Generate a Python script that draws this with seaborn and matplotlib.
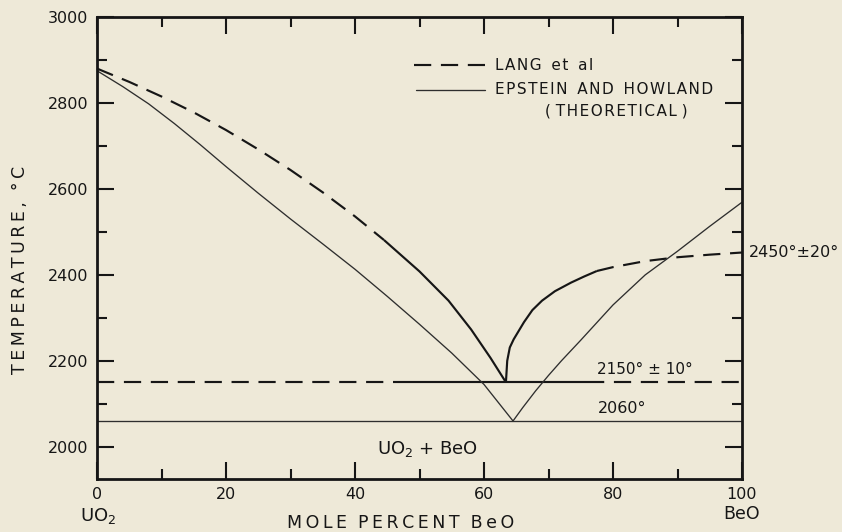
import numpy as np
import pandas as pd
import matplotlib
matplotlib.use("Agg")
import matplotlib.pyplot as plt
import seaborn as sns
from matplotlib.lines import Line2D
from matplotlib.ticker import MultipleLocator

# ---------------- data ----------------
# Lang et al liquidus, UO2 side (dashed part then solid part)
lang_left_x = [0, 5, 10, 15, 20, 25, 30, 35, 40, 44.5]
lang_left_t = [2880, 2849, 2815, 2778, 2737, 2692, 2644, 2592, 2536, 2481]
lang_left_solid_x = [44.5, 50, 54.5, 58, 61, 63.4]
lang_left_solid_t = [2481, 2408, 2340, 2273, 2207, 2150]
# Lang et al liquidus, BeO side (solid part then dashed part)
lang_right_solid_x = [63.4, 63.6, 64.0, 64.6, 65.2, 66.2, 67.5, 69, 71, 73.5, 75.5, 77.5]
lang_right_solid_t = [2150, 2200, 2231, 2250, 2265, 2290, 2318, 2340, 2362, 2382, 2396, 2409]
lang_right_x = [77.5, 80, 85, 90, 95, 100]
lang_right_t = [2409, 2418, 2432, 2441, 2447, 2452]
# Lang eutectic line 2150
lang_eut_dash1_x = [0, 46]
lang_eut_solid_x = [46, 76]
lang_eut_dash2_x = [76, 100]
lang_eut_t = 2150
# Epstein and Howland (theoretical)
theo_left_x = [0, 4, 8, 12, 16, 20, 25, 30, 35, 40, 45, 50, 55, 60, 64.5]
theo_left_t = [2875, 2838, 2798, 2752, 2703, 2652, 2590, 2530, 2472, 2413, 2350, 2285, 2218, 2145, 2060]
theo_right_x = [64.5, 66, 68, 70, 72, 75, 80, 85, 90, 95, 100]
theo_right_t = [2060, 2091, 2130, 2166, 2200, 2248, 2330, 2400, 2455, 2513, 2569]
theo_eut_x = [0, 100]
theo_eut_t = 2060

x_ticks = [0, 20, 40, 60, 80, 100]
y_ticks = [2000, 2200, 2400, 2600, 2800, 3000]

BG = "#eee9d8"
INK = "#161616"
THIN = "#2e2e2e"
FONT = "DejaVu Sans"

sns.set_theme(style="white")
plt.rcParams["font.family"] = [FONT]
plt.rcParams["mathtext.fontset"] = "dejavusans"


def track(s, sp="\u2009"):
    return sp.join(s)


fig = plt.figure(figsize=(8.42, 5.32), dpi=100, facecolor=BG)
ax = fig.add_axes([97 / 842, 1 - 479 / 532, 645 / 842, 462 / 532])
ax.set_facecolor(BG)

LW_LANG = 1.55
LW_THEO = 0.95
DASH = (8, 4.5)


def line(xs, ts, lw, color, dashed=False):
    df = pd.DataFrame({"x": xs, "t": ts})
    sns.lineplot(data=df, x="x", y="t", ax=ax, sort=False, estimator=None,
                 color=color, linewidth=lw,
                 dashes=False, legend=False)
    ln = ax.lines[-1]
    if dashed:
        ln.set_dashes(DASH)
    ln.set_solid_capstyle("butt")
    ln.set_dash_capstyle("butt")
    ln.set_solid_joinstyle("round")
    ln.set_clip_on(False)


# Lang et al
line(lang_left_x, lang_left_t, LW_LANG, INK, dashed=True)
line(lang_left_solid_x, lang_left_solid_t, LW_LANG, INK)
line(lang_right_solid_x, lang_right_solid_t, LW_LANG, INK)
line(lang_right_x, lang_right_t, LW_LANG, INK, dashed=True)
line(lang_eut_dash1_x, [lang_eut_t] * 2, LW_LANG, INK, dashed=True)
line(lang_eut_solid_x, [lang_eut_t] * 2, LW_LANG, INK)
line(lang_eut_dash2_x, [lang_eut_t] * 2, LW_LANG, INK, dashed=True)
# Theoretical
line(theo_left_x, theo_left_t, LW_THEO, THIN)
line(theo_right_x, theo_right_t, LW_THEO, THIN)
line(theo_eut_x, [theo_eut_t] * 2, LW_THEO, THIN)

ax.set_xlim(0, 100)
ax.set_ylim(1925, 3000)
ax.set_xticks(x_ticks)
ax.set_yticks(y_ticks)
ax.xaxis.set_minor_locator(MultipleLocator(10))
ax.yaxis.set_minor_locator(MultipleLocator(100))
ax.set_xticklabels([str(v) for v in x_ticks])
ax.set_yticklabels([str(v) for v in y_ticks])
ax.tick_params(which="both", direction="in", top=True, right=True,
               bottom=True, left=True, color=INK, width=1.5,
               labelsize=11.5, labelcolor=INK)
ax.tick_params(which="major", length=12, pad=6)
ax.tick_params(which="minor", length=7)
for s in ax.spines.values():
    s.set_visible(True)
    s.set_linewidth(2.0)
    s.set_color(INK)

ax.set_xlabel("")
ax.set_ylabel("")
fig.text(20 / 842, 1 - 270 / 532, track("TEMPERATURE,") + "  " + track("°C"),
         rotation=90, ha="center", va="center", fontsize=12.5, color=INK)
fig.text(401 / 842, 1 - 523 / 532,
         track("MOLE") + "  " + track("PERCENT") + "  " + track("BeO"),
         ha="center", va="center", fontsize=12.5, color=INK)
fig.text(98 / 842, 1 - 516 / 532, "UO$_2$", ha="center", va="center",
         fontsize=13, color=INK)
fig.text(742 / 842, 1 - 514 / 532, "BeO", ha="center", va="center",
         fontsize=12.5, color=INK)

# annotations
ax.text(77.5, 2162, "2150° ± 10°", ha="left", va="bottom", fontsize=11, color=INK)
ax.text(77.7, 2072, "2060°", ha="left", va="bottom", fontsize=11.5, color=INK)
ax.text(101, 2452, "2450°±20°", ha="left", va="center", fontsize=11.5,
        color=INK, clip_on=False)
ax.text(43.4, 1995, "UO$_2$ + BeO", ha="left", va="center", fontsize=13, color=INK)

# legend drawn in axes coordinates
ax.add_line(Line2D([0.4915, 0.6016], [0.896, 0.896], transform=ax.transAxes,
                   color=INK, linewidth=LW_LANG, dashes=DASH,
                   dash_capstyle="butt"))
ax.add_line(Line2D([0.4946, 0.6016], [0.842, 0.842], transform=ax.transAxes,
                   color=THIN, linewidth=LW_THEO))
ax.text(0.617, 0.896, track("LANG", "\u200a") + "  " + track("et", "\u200a") + "  " + track("al", "\u200a"),
        transform=ax.transAxes, ha="left", va="center", fontsize=11, color=INK)
ax.text(0.617, 0.842,
        track("EPSTEIN", "\u200a") + "  " + track("AND", "\u200a") + "  " + track("HOWLAND", "\u200a"),
        transform=ax.transAxes, ha="left", va="center", fontsize=11, color=INK)
ax.text(0.6946, 0.797, "( " + track("THEORETICAL", "\u200a") + " )",
        transform=ax.transAxes, ha="left", va="center", fontsize=11, color=INK)

fig.savefig("out.png", dpi=100, facecolor=BG)
